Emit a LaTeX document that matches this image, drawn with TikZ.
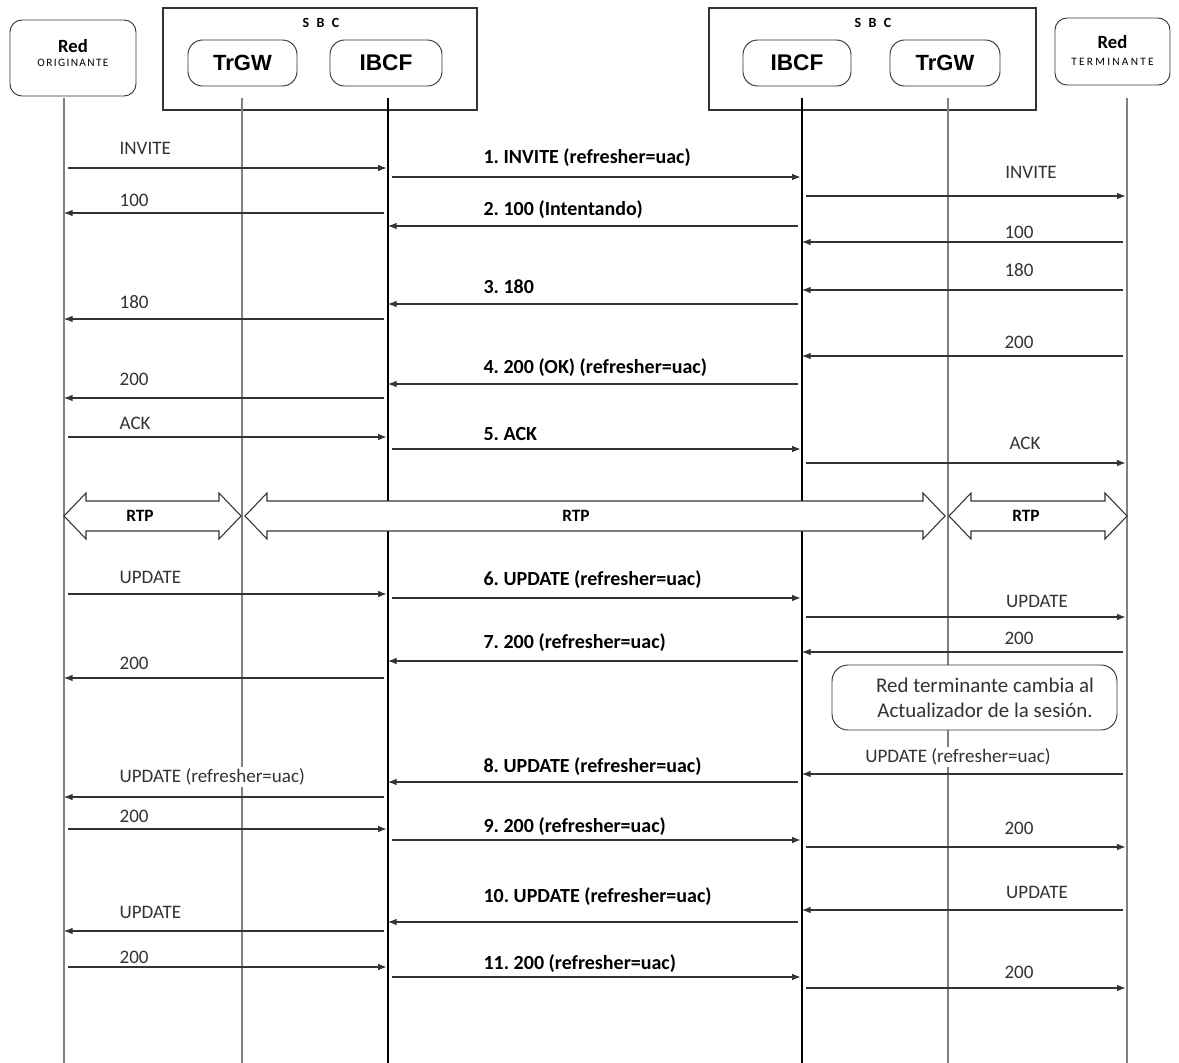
\documentclass[tikz,border=0pt]{standalone}
\usepackage{fontspec}
\setmainfont{Carlito}
\newfontfamily\arialfont{Liberation Sans}
\newfontfamily\origfont[LetterSpace=12]{Carlito}
\newfontfamily\termfont[LetterSpace=20]{Carlito}
\newfontfamily\sbcfont[LetterSpace=30]{Carlito}
\usetikzlibrary{arrows.meta}

\tikzset{
  box/.style={draw=black!80, line width=0.7pt, rounded corners=9pt, align=center, fill=white},
  life/.style={black!50, line width=0.8pt},
  msg/.style={black!80, line width=0.8pt},
  fw/.style={-{Latex[length=6.5pt,width=5pt]}, shorten <=3pt, shorten >=1pt},
  bw/.style={{Latex[length=6.5pt,width=5pt]}-, shorten >=3pt},
  lbl/.style={font=\fontsize{14.3}{16}\selectfont, text=black!80, fill=white, inner sep=1pt},
  blbl/.style={font=\fontsize{15}{17}\selectfont\bfseries, fill=white, inner sep=1pt},
}

\begin{document}
\frenchspacing
\begin{tikzpicture}[x=0.75pt,y=-0.75pt]
  \useasboundingbox[fill=white] (0,0) rectangle (1179,1063);

  % cabeceras
  \node[draw=black!80, line width=0.8pt, minimum width=235.5pt, minimum height=76.5pt] (sbcA) at (320,59) {};
  \node[draw=black!80, line width=0.8pt, minimum width=245.25pt, minimum height=76.5pt] (sbcB) at (872.5,59) {};
  \node[font=\sbcfont\bfseries\fontsize{10.5}{12}\selectfont] (sbcAt) at (321,23) {S B C};
  \node[font=\sbcfont\bfseries\fontsize{10.5}{12}\selectfont] (sbcBt) at (873,23) {S B C};
  \node[box, minimum width=94.5pt, minimum height=57pt] (orig) at (73,58) {};
  \node[align=center] (origt) at (73,53)
    {{\bfseries\fontsize{14}{16}\selectfont Red}\\[-1pt]{\origfont\fontsize{8.5}{10}\selectfont ORIGINANTE}};
  \node[box, minimum width=86.25pt, minimum height=50.25pt] (term) at (1112.5,51.5) {};
  \node[align=center] (termt) at (1112.5,50.5)
    {{\bfseries\fontsize{14}{16}\selectfont Red}\\[1pt]{\termfont\fontsize{8.5}{10}\selectfont TERMINANTE}};
  \node[box, rounded corners=11pt, minimum width=81.75pt, minimum height=34.5pt, font=\arialfont\bfseries\fontsize{16.5}{18}\selectfont] (trgwA) at (242.5,63) {TrGW};
  \node[box, rounded corners=11pt, minimum width=84pt, minimum height=34.5pt, font=\arialfont\bfseries\fontsize{17}{19}\selectfont] (ibcfA) at (386,63) {IBCF};
  \node[box, rounded corners=11pt, minimum width=81pt, minimum height=34.5pt, font=\arialfont\bfseries\fontsize{17}{19}\selectfont] (ibcfB) at (797,63) {IBCF};
  \node[box, rounded corners=11pt, minimum width=82.5pt, minimum height=34.5pt, font=\arialfont\bfseries\fontsize{16.5}{18}\selectfont] (trgwB) at (945,63) {TrGW};

  % lineas de vida
  \foreach \n/\x in {orig/64, trgwA/242, ibcfA/388, ibcfB/802, trgwB/948, term/1127}
    \coordinate (l\n) at (\x,98);
  \foreach \n in {orig, trgwA, trgwB, term}
    \draw[life] (l\n) -- (l\n |- 0,1063);
  \foreach \n in {ibcfA, ibcfB}
    \draw[black, line width=0.9pt] (l\n) -- (l\n |- 0,1063);

  % RTP
  \foreach \a/\b/\m [count=\i] in {64/241/140, 245/945/576, 949/1127/1026}{
    \draw[black!80, line width=0.8pt, fill=white] (\a,516) -- (\a+22,493) -- (\a+22,501) -- (\b-22,501) -- (\b-22,493)
      -- (\b,516) -- (\b-22,539) -- (\b-22,531) -- (\a+22,531) -- (\a+22,539) -- cycle;
    \node[font=\bfseries\fontsize{13}{15}\selectfont] (rtp\i) at (\m,516) {RTP};
  }

  % red originante - IBCF
  \foreach \y/\ty/\d/\t in {168/148/fw/INVITE, 213/200/bw/100, 319/302/bw/180, 398/379/bw/200, 437/423/fw/ACK,
      594/577/fw/UPDATE, 678/663/bw/200, 797/777/bw/UPDATE (refresher=uac), 829/816/fw/200, 931/912/bw/UPDATE, 967/957/fw/200}{
    \draw[msg,\d] (lorig |- 0,\y) -- (libcfA |- 0,\y);
    \node[lbl, anchor=west] (lA\y) at (118,\ty) {\t};
  }

  % IBCF - IBCF
  \foreach \y/\ty/\d/\t in {177/158/fw/1. INVITE (refresher=uac), 226/210/bw/2. 100 (Intentando), 304/287/bw/3. 180,
      384/368/bw/4. 200 (OK) (refresher=uac), 449/434/fw/5. ACK, 598/580/fw/6. UPDATE (refresher=uac),
      661/643/bw/7. 200 (refresher=uac), 782/767/bw/8. UPDATE (refresher=uac), 840/827/fw/9. 200 (refresher=uac),
      922/897/bw/10. UPDATE (refresher=uac), 977/964/fw/11. 200 (refresher=uac)}{
    \draw[msg,\d] (libcfA |- 0,\y) -- (libcfB |- 0,\y);
    \node[blbl, anchor=west] (lB\y) at (482,\ty) {\t};
  }

  % IBCF - red terminante
  \foreach \y/\ty/\x/\d/\t in {196/172/1031/fw/INVITE, 242/232/1019/bw/100, 290/270/1019/bw/180, 356/342/1019/bw/200,
      463/443/1025/fw/ACK, 617/601/1037/fw/UPDATE, 652/638/1019/bw/200, 774/757/958/bw/UPDATE (refresher=uac),
      847/828/1019/fw/200, 910/892/1037/bw/UPDATE, 988/972/1019/fw/200}{
    \draw[msg,\d] (libcfB |- 0,\y) -- (lterm |- 0,\y);
    \node[lbl] (lC\y) at (\x,\ty) {\t};
  }

  \node[box, rounded corners=12pt, minimum width=213.75pt, minimum height=48.75pt] (chg) at (974.5,697.5) {};
  \node[align=center, font=\fontsize{15.7}{19}\selectfont, text=black!80] (chgt) at (985,697.5)
    {Red terminante cambia al\\Actualizador de la sesión.};
\end{tikzpicture}
\end{document}
